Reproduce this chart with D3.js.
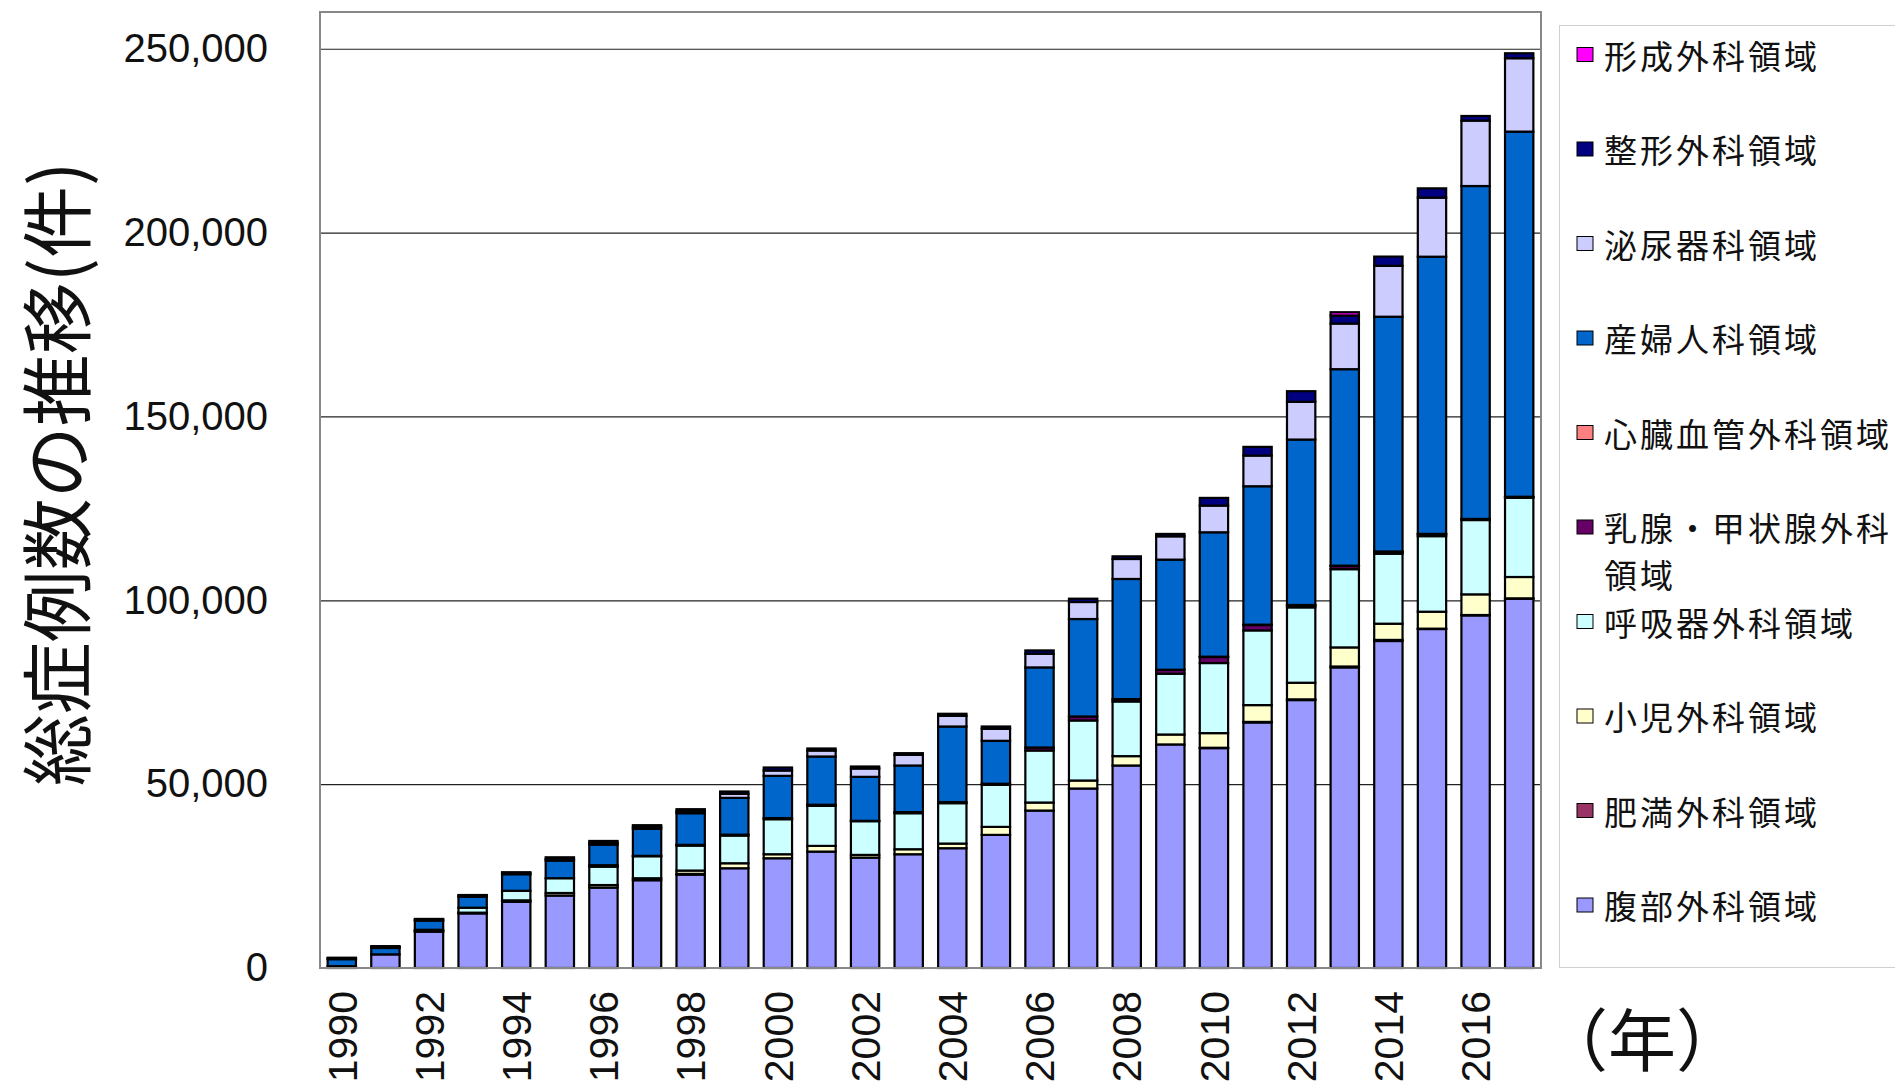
<!DOCTYPE html>
<html>
<head>
<meta charset="utf-8">
<script src="https://cdn.jsdelivr.net/npm/d3@7/dist/d3.min.js"></script>
<style>
  body { margin: 0; background: #fff; }
  svg { display: block; }
</style>
</head>
<body>
<svg id="chart" width="1895" height="1087"></svg>
<script>
// Years on the x axis
const years = [1990, 1991, 1992, 1993, 1994, 1995, 1996, 1997, 1998, 1999,
               2000, 2001, 2002, 2003, 2004, 2005, 2006, 2007, 2008, 2009,
               2010, 2011, 2012, 2013, 2014, 2015, 2016, 2017];
const yearTickLabels = [1990, 1992, 1994, 1996, 1998, 2000, 2002, 2004, 2006, 2008, 2010, 2012, 2014, 2016];
const valueTicks = [0, 50000, 100000, 150000, 200000, 250000];

// Cases per field, stacked bottom to top in this order
const abdominal   = [500, 3700, 9900, 14850, 18000, 19700, 21860, 23870, 25400, 27130, 29850, 31660, 30030, 30940, 32580, 36200, 42820, 48810, 55070, 60800, 59800, 66780, 72870, 81750, 88930, 92190, 95900, 100440];
const bariatric   = [0, 0, 0, 0, 0, 0, 0, 0, 200, 0, 0, 0, 0, 0, 0, 0, 0, 0, 0, 0, 100, 150, 200, 250, 300, 100, 100, 100];
const pediatric   = [0, 0, 100, 200, 400, 700, 700, 540, 900, 1360, 1090, 1550, 730, 1360, 1260, 2180, 2180, 2180, 2550, 2700, 3980, 4570, 4510, 5190, 4410, 4610, 5620, 5800];
const thoracic    = [0, 0, 400, 1350, 2600, 4020, 5000, 5990, 6790, 7530, 9530, 10890, 9170, 9800, 10990, 11430, 14150, 16330, 14870, 16530, 19060, 20320, 20500, 21280, 19020, 20550, 20210, 21530];
const breastThyroid = [0, 0, 0, 0, 0, 0, 400, 100, 200, 250, 300, 300, 100, 300, 300, 300, 820, 1080, 650, 1090, 1630, 1460, 550, 850, 520, 520, 200, 200];
const cardiovascular = [0, 0, 0, 0, 0, 0, 0, 0, 0, 0, 0, 0, 0, 0, 0, 0, 0, 0, 0, 0, 100, 100, 100, 100, 100, 100, 100, 100];
const gynecology  = [1900, 1750, 2500, 3000, 4500, 4790, 5590, 7340, 8610, 10000, 11490, 13120, 11960, 12670, 20550, 11680, 21780, 26510, 32660, 29940, 33830, 37640, 44990, 53440, 63850, 75380, 90540, 99300];
const urology     = [200, 250, 200, 200, 250, 400, 500, 500, 500, 1090, 1450, 1630, 2260, 2910, 2920, 3270, 3720, 4630, 5440, 6340, 7260, 8350, 10260, 12410, 13850, 16060, 17790, 19960];
const orthopedic  = [200, 250, 250, 250, 300, 500, 500, 500, 590, 640, 820, 550, 550, 450, 540, 620, 900, 900, 720, 650, 2090, 2360, 2890, 2180, 2500, 2530, 1260, 1350];
const plastic     = [0, 0, 0, 0, 0, 0, 0, 0, 0, 0, 0, 0, 0, 0, 0, 0, 0, 0, 0, 0, 0, 0, 0, 900, 0, 0, 0, 0];

const seriesNames = ["腹部外科領域", "肥満外科領域", "小児外科領域", "呼吸器外科領域", "乳腺・甲状腺外科領域",
                     "心臓血管外科領域", "産婦人科領域", "泌尿器科領域", "整形外科領域", "形成外科領域"];
const seriesValues = [abdominal, bariatric, pediatric, thoracic, breastThyroid,
                      cardiovascular, gynecology, urology, orthopedic, plastic];
const seriesColors = ["#9999FF", "#993366", "#FFFFCC", "#CCFFFF", "#660066",
                      "#FF8080", "#0066CC", "#CCCCFF", "#000080", "#FF00FF"];

const svg = d3.select("#chart");
const plot = { left: 320, right: 1541, top: 12, bottom: 968 };
const cjk = "'Noto Sans CJK JP', 'Noto Sans', sans-serif";
const latin = "'Liberation Sans', Arial, sans-serif";

svg.append("rect").attr("width", 1895).attr("height", 1087).attr("fill", "#fff");

const x = d3.scaleBand().domain(years)
  .range([plot.left, plot.right]).paddingInner(0.35).paddingOuter(0.175);
const y = d3.scaleLinear().domain([0, 260000]).range([plot.bottom, plot.top]);

// table rows for the stack layout
const rows = years.map((yr, i) => {
  const r = { year: yr };
  seriesNames.forEach((n, k) => { r[n] = seriesValues[k][i]; });
  return r;
});
const stacked = d3.stack().keys(seriesNames)(rows);

// gridlines
svg.append("g").selectAll("line")
  .data(valueTicks.filter(v => v > 0))
  .join("line")
  .attr("x1", plot.left).attr("x2", plot.right)
  .attr("y1", d => y(d) + 0.5).attr("y2", d => y(d) + 0.5)
  .attr("stroke", "#222").attr("stroke-width", 1.2);

// stacked bars
svg.append("g").selectAll("g")
  .data(stacked)
  .join("g")
  .attr("fill", (d, k) => seriesColors[k])
  .selectAll("rect")
  .data(d => d.filter(s => s[1] - s[0] > 0))
  .join("rect")
  .attr("x", d => x(d.data.year))
  .attr("width", x.bandwidth())
  .attr("y", d => y(d[1]))
  .attr("height", d => y(d[0]) - y(d[1]))
  .attr("stroke", "#000")
  .attr("stroke-width", 2.2);

// plot frame
svg.append("rect")
  .attr("x", plot.left).attr("y", plot.top)
  .attr("width", plot.right - plot.left).attr("height", plot.bottom - plot.top)
  .attr("fill", "none").attr("stroke", "#888").attr("stroke-width", 2);

// y axis labels
const yAxis = d3.axisLeft(y).tickValues(valueTicks).tickSize(0).tickPadding(52)
  .tickFormat(d3.format(","));
svg.append("g").attr("transform", `translate(${plot.left},0)`).call(yAxis)
  .call(g => g.select(".domain").remove())
  .selectAll("text")
  .attr("font-family", latin).attr("font-size", 40).attr("fill", "#111");

// x axis labels (rotated)
const xAxis = d3.axisBottom(x).tickValues(yearTickLabels).tickSize(0).tickPadding(0);
svg.append("g").attr("transform", `translate(0,${plot.bottom})`).call(xAxis)
  .call(g => g.select(".domain").remove())
  .selectAll("text")
  .attr("font-family", latin).attr("font-size", 41).attr("fill", "#111")
  .attr("text-anchor", "end")
  .attr("transform", "translate(0,23) rotate(-90)")
  .attr("x", 0).attr("y", 0).attr("dy", "0.36em");

// y axis title
svg.append("text")
  .attr("transform", "translate(52,474) rotate(-90)")
  .attr("text-anchor", "middle").attr("dominant-baseline", "central")
  .attr("font-family", cjk).attr("font-size", 72).attr("fill", "#111")
  .text("総症例数の推移(件)");

// x axis unit
svg.append("text")
  .attr("x", 1540).attr("y", 1036)
  .attr("dominant-baseline", "central")
  .attr("font-family", cjk).attr("font-size", 68).attr("fill", "#111")
  .text("（年）");

// legend
const legend = svg.append("g");
legend.append("rect")
  .attr("x", 1559.5).attr("y", 25.5).attr("width", 400).attr("height", 942)
  .attr("fill", "#fff").attr("stroke", "#d0d0d0").attr("stroke-width", 1);

const legendOrder = d3.range(seriesNames.length).reverse();
const item = legend.selectAll("g.item")
  .data(legendOrder)
  .join("g").attr("class", "item")
  .attr("transform", (k, i) => `translate(1577,${54.5 + i * 94.5})`);
item.append("rect")
  .attr("x", 0).attr("y", -7).attr("width", 16).attr("height", 14)
  .attr("fill", k => seriesColors[k]).attr("stroke", "#000").attr("stroke-width", 1);
item.each(function (k) {
  const name = seriesNames[k];
  const lines = name.length > 8 ? [name.slice(0, 8), name.slice(8)] : [name];
  const t = d3.select(this).append("text")
    .attr("font-family", cjk).attr("font-size", 33).attr("fill", "#111")
    .attr("letter-spacing", 3);
  lines.forEach((ln, j) => {
    t.append("tspan").attr("x", 27).attr("y", j * 47)
      .attr("dominant-baseline", "central").text(ln);
  });
});
</script>
</body>
</html>
